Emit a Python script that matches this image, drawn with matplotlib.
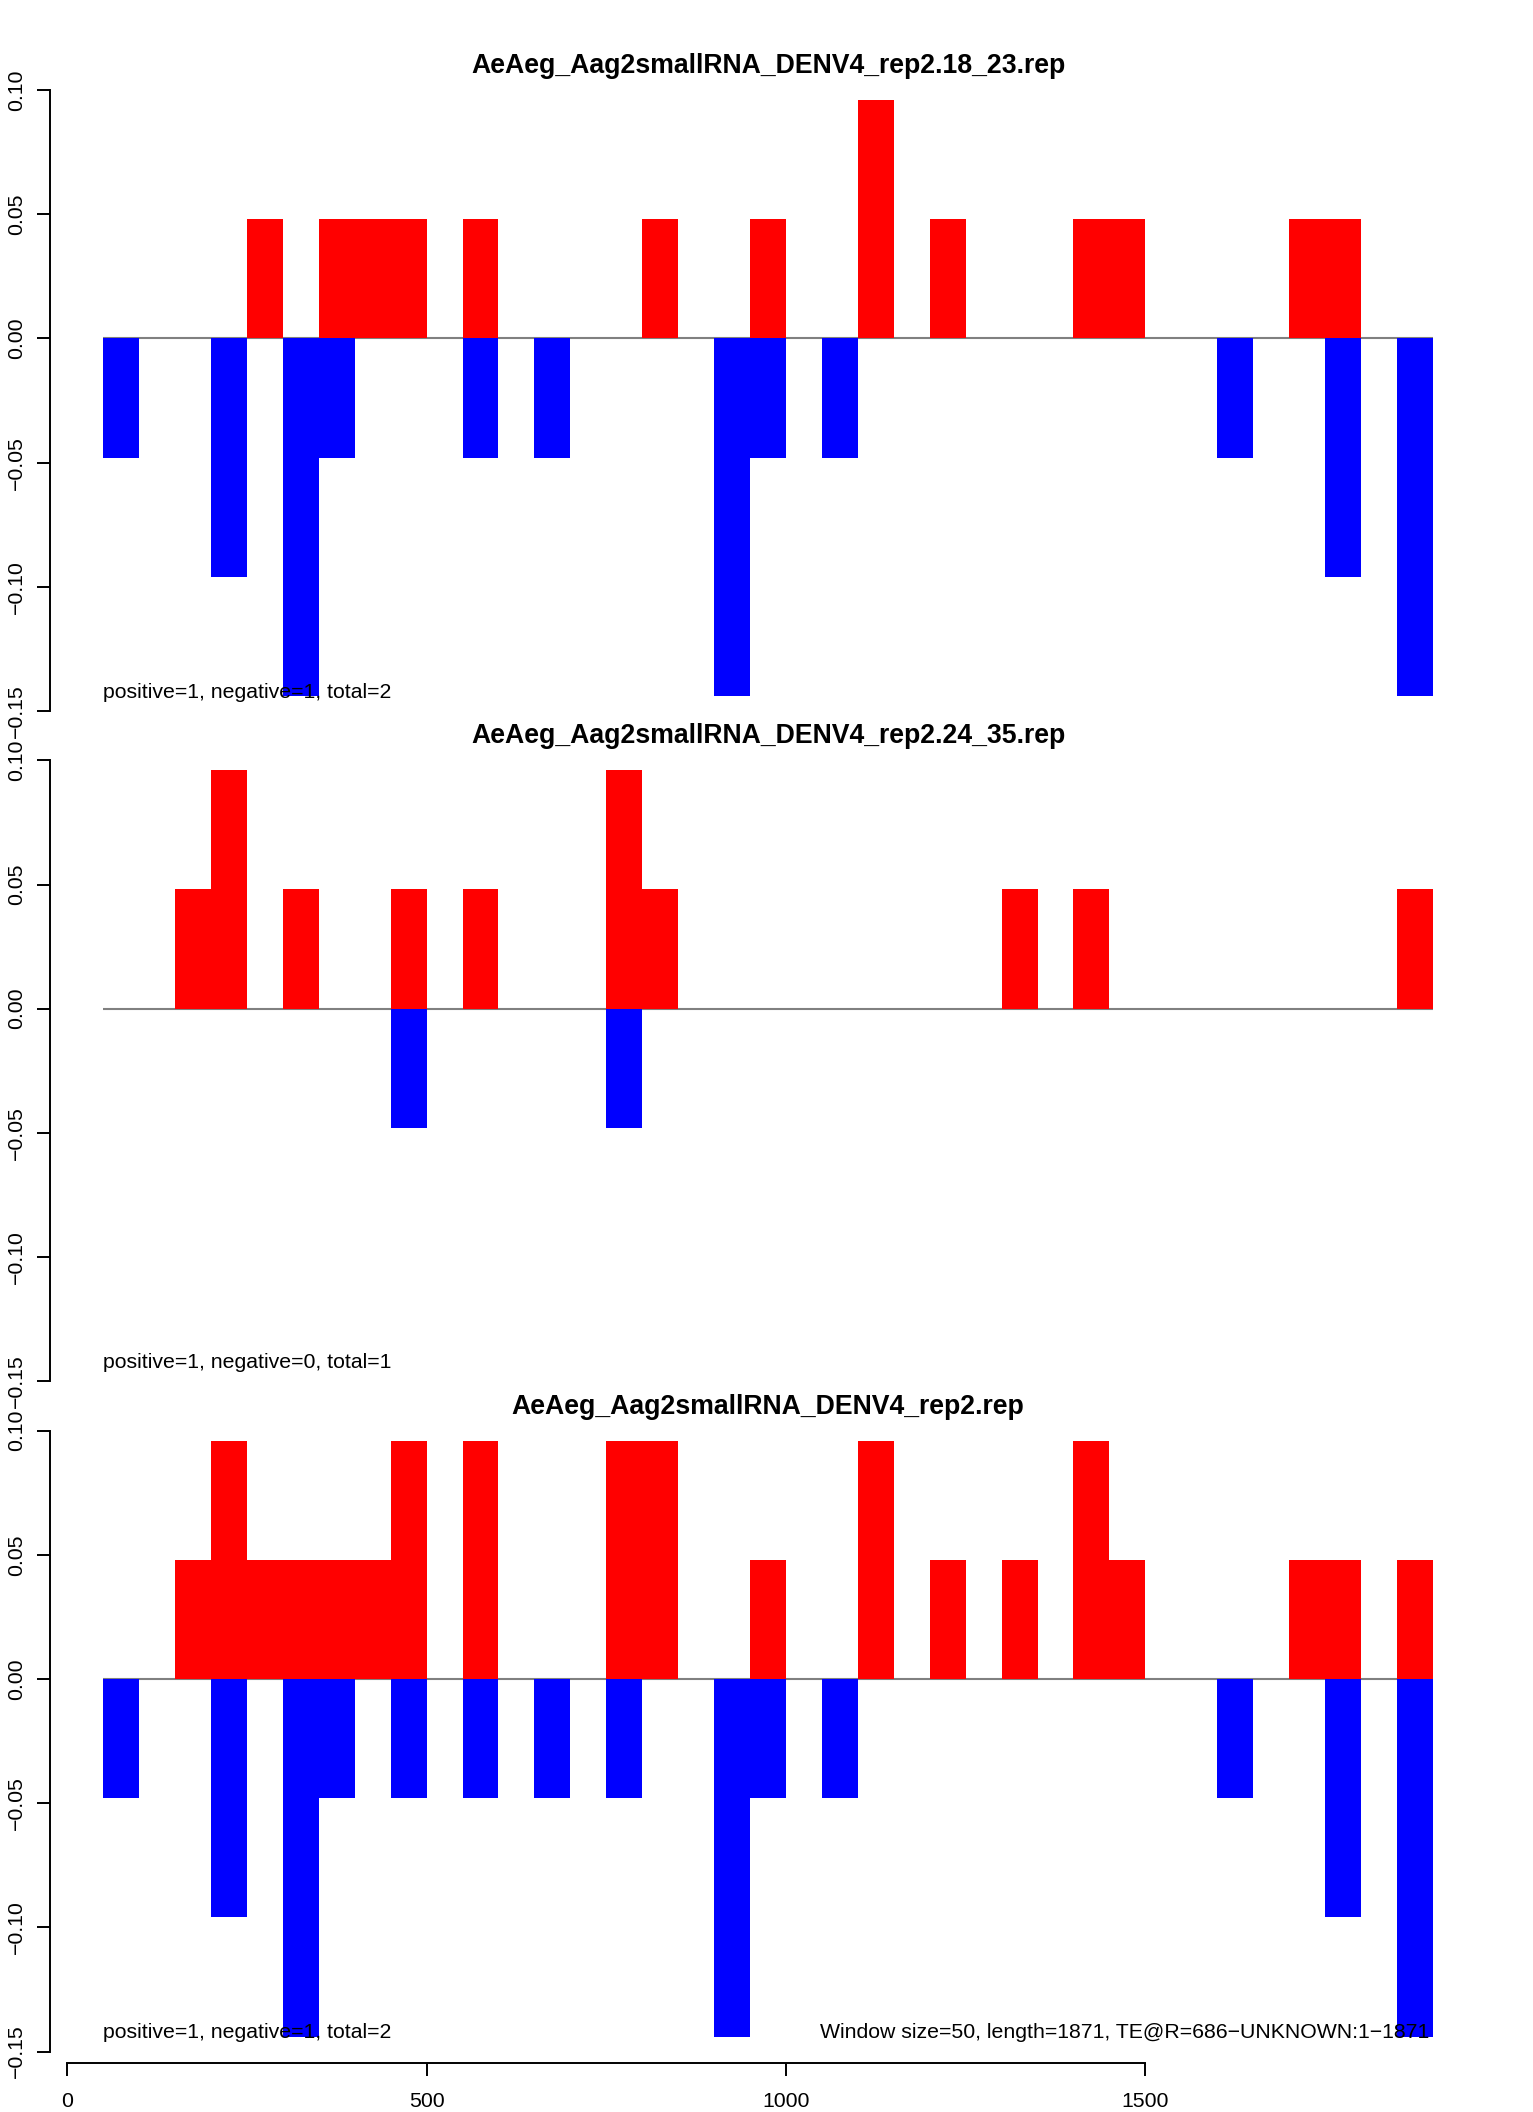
import matplotlib
matplotlib.use("Agg")
import matplotlib.pyplot as plt

plt.rcParams['font.family'] = ['Liberation Sans', 'DejaVu Sans']

# window starts (bp) and normalised counts, one pair of arrays per strand per panel
titles = ["AeAeg_Aag2smallRNA_DENV4_rep2.18_23.rep",
          "AeAeg_Aag2smallRNA_DENV4_rep2.24_35.rep",
          "AeAeg_Aag2smallRNA_DENV4_rep2.rep"]
notes = ["positive=1, negative=1, total=2",
         "positive=1, negative=0, total=1",
         "positive=1, negative=1, total=2"]

pos1_x = [250, 350, 400, 450, 550, 800, 950, 1100, 1200, 1400, 1450, 1700, 1750]
pos1_y = [0.048, 0.048, 0.048, 0.048, 0.048, 0.048, 0.048, 0.096, 0.048, 0.048, 0.048, 0.048, 0.048]
neg1_x = [50, 200, 300, 350, 550, 650, 900, 950, 1050, 1600, 1750, 1850]
neg1_y = [-0.048, -0.096, -0.144, -0.048, -0.048, -0.048, -0.144, -0.048, -0.048, -0.048, -0.096, -0.144]

pos2_x = [150, 200, 300, 450, 550, 750, 800, 1300, 1400, 1850]
pos2_y = [0.048, 0.096, 0.048, 0.048, 0.048, 0.096, 0.048, 0.048, 0.048, 0.048]
neg2_x = [450, 750]
neg2_y = [-0.048, -0.048]

pos3_x = [150, 200, 250, 300, 350, 400, 450, 550, 750, 800, 950, 1100, 1200, 1300, 1400, 1450, 1700, 1750, 1850]
pos3_y = [0.048, 0.096, 0.048, 0.048, 0.048, 0.048, 0.096, 0.096, 0.096, 0.096, 0.048, 0.096, 0.048, 0.048, 0.096, 0.048, 0.048, 0.048, 0.048]
neg3_x = [50, 200, 300, 350, 450, 550, 650, 750, 900, 950, 1050, 1600, 1750, 1850]
neg3_y = [-0.048, -0.096, -0.144, -0.048, -0.048, -0.048, -0.048, -0.048, -0.144, -0.048, -0.048, -0.048, -0.096, -0.144]

panels = [(pos1_x, pos1_y, neg1_x, neg1_y),
          (pos2_x, pos2_y, neg2_x, neg2_y),
          (pos3_x, pos3_y, neg3_x, neg3_y)]

yticks = [-0.15, -0.10, -0.05, 0.00, 0.05, 0.10]
ylabels = ["\u22120.15", "\u22120.10", "\u22120.05", "0.00", "0.05", "0.10"]
xticks = [0, 500, 1000, 1500]
xlabels = ["0", "500", "1000", "1500"]
window = 50
seq_start, seq_end = 50, 1900

W, H = 1533, 2112
fig = plt.figure(figsize=(W / 100, H / 100), dpi=100)

for i, (px, py, nx, ny) in enumerate(panels):
    top = 65.2 + 670.3 * i
    ax = fig.add_axes([50 / W, 1 - (top + 670.6) / H, 1436 / W, 670.6 / H])
    ax.hlines(0, seq_start, seq_end, color='#808080', lw=1.5, zorder=1)
    ax.bar(px, py, width=window, align='edge', color='#ff0000', lw=0, zorder=2)
    ax.bar(nx, ny, width=window, align='edge', color='#0000ff', lw=0, zorder=2)
    ax.set_xlim(-24, 1974)
    ax.set_ylim(-0.16, 0.11)

    for s in ['top', 'right']:
        ax.spines[s].set_visible(False)
    ax.spines['left'].set_bounds(-0.15, 0.10)
    ax.spines['left'].set_linewidth(1.4)
    ax.set_yticks(yticks)
    ax.set_yticklabels(ylabels, rotation=90, va='center')
    ax.tick_params(axis='y', length=9.5, width=1.4, pad=7.5, labelsize=15.3)

    if i < 2:
        ax.spines['bottom'].set_visible(False)
        ax.set_xticks([])
    else:
        ax.spines['bottom'].set_position(('data', -0.1547))
        ax.spines['bottom'].set_bounds(0, 1500)
        ax.spines['bottom'].set_linewidth(1.4)
        ax.set_xticks(xticks)
        ax.set_xticklabels(xlabels)
        ax.tick_params(axis='x', length=9, width=1.4, pad=12, labelsize=15.3)
        ax.text(seq_end - 5, -0.1447, "Window size=50, length=1871, TE@R=686\u2212UNKNOWN:1\u22121871",
                ha='right', va='baseline', fontsize=15.3, zorder=3)

    ax.text(0.5, 1 - 7.7 / 670.6, titles[i], transform=ax.transAxes,
            ha='center', va='baseline', fontsize=19.2, fontweight='bold')
    ax.text(seq_start, -0.1447, notes[i], ha='left', va='baseline', fontsize=15.3, zorder=3)

fig.savefig("out.png", dpi=100)
